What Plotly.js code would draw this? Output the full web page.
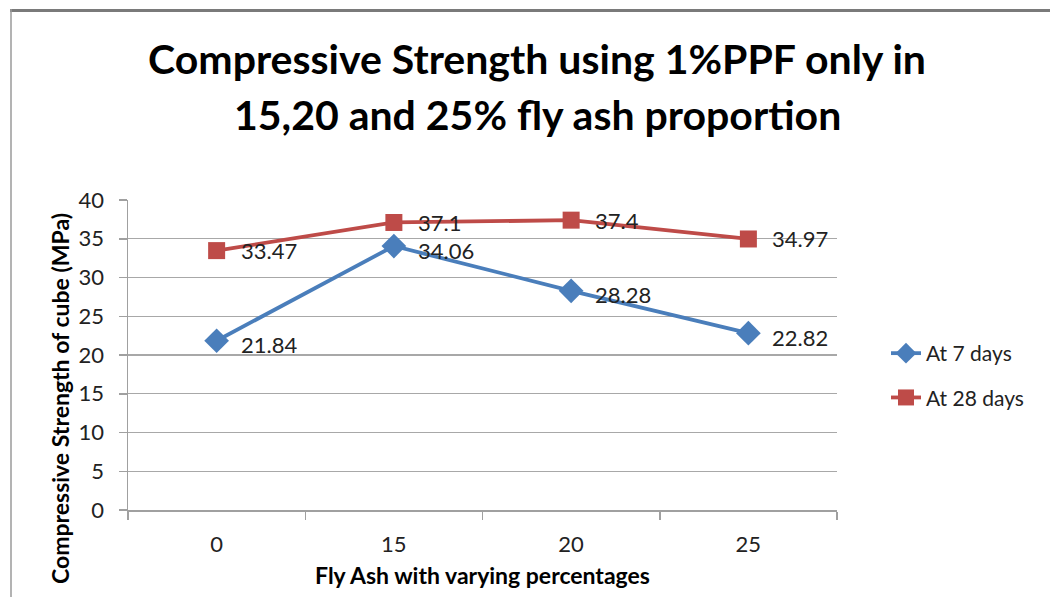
<!DOCTYPE html>
<html>
<head>
<meta charset="utf-8">
<script src="https://cdn.plot.ly/plotly-3.0.1.min.js"></script>
<style>
html,body{margin:0;padding:0;background:#fff;}
#chart{width:1050px;height:597px;}
</style>
</head>
<body>
<div id="chart"></div>
<script>
const categories = ["0", "15", "20", "25"];
const days7 = [21.84, 34.06, 28.28, 22.82];
const days28 = [33.47, 37.1, 37.4, 34.97];
const seriesNames = ["At 7 days", "At 28 days"];
const yTicks = [0, 5, 10, 15, 20, 25, 30, 35, 40];

const W = 1050, H = 597;
const M = {l: 128, r: 213, t: 200, b: 87};
const PW = W - M.l - M.r, PH = H - M.t - M.b;
const px = x => (x - M.l) / PW;
const py = y => (H - M.b - y) / PH;

const FONT = "Lato, 'Open Sans', sans-serif";

const traces = [
  {
    x: categories, y: days7, name: seriesNames[0], type: "scatter",
    mode: "lines+markers",
    line: {color: "#4A7EBB", width: 3.8},
    marker: {symbol: "diamond", size: 19, color: "#4A7EBB"},
    legendgroup: "a", cliponaxis: false
  },
  {
    x: categories, y: days28, name: seriesNames[1], type: "scatter",
    mode: "lines+markers",
    line: {color: "#BE4B48", width: 3.8},
    marker: {symbol: "square", size: 17, color: "#BE4B48"},
    legendgroup: "b", cliponaxis: false
  }
];

function labels(vals, yshift) {
  return vals.map((v, i) => ({
    text: String(v), x: i, y: v, xref: "x", yref: "y",
    xanchor: "left", yanchor: "middle", xshift: 22, yshift: yshift,
    showarrow: false, font: {family: FONT, size: 22, color: "#222"}
  }));
}

const layout = {
  width: W, height: H,
  margin: M,
  paper_bgcolor: "#fff", plot_bgcolor: "#fff",
  font: {family: FONT, color: "#222"},
  title: {
    text: "<b>Compressive Strength using 1%PPF only in</b>",
    font: {family: FONT, size: 41, color: "#000"},
    x: 537 / W, xanchor: "center", xref: "container",
    y: 1 - 60 / H, yanchor: "middle", yref: "container"
  },
  xaxis: {
    type: "category", range: [-0.5, 3.5],
    showline: true, linecolor: "#a0a0a0", linewidth: 1.5,
    ticks: "outside", tickson: "boundaries", ticklen: 8, tickcolor: "#a0a0a0", tickwidth: 1.5,
    showgrid: false, zeroline: false,
    tickfont: {family: FONT, size: 22, color: "#222"},
    ticklabelstandoff: 14,
    title: {text: "<b>Fly Ash with varying percentages</b>", font: {family: FONT, size: 23, color: "#000"}, standoff: 12}
  },
  yaxis: {
    range: [0, 40], tickvals: yTicks,
    showline: true, linecolor: "#a0a0a0", linewidth: 1.5,
    ticks: "outside", ticklen: 8, tickcolor: "#a0a0a0", tickwidth: 1.5,
    showgrid: true, gridcolor: "#a8a8a8", gridwidth: 1.3,
    zeroline: false,
    tickfont: {family: FONT, size: 22, color: "#222"},
    ticklabelstandoff: 10
  },
  showlegend: true,
  legend: {
    x: px(886), xanchor: "left", y: py(333), yanchor: "top",
    font: {family: FONT, size: 21, color: "#222"},
    traceorder: "grouped", tracegroupgap: 14,
    bgcolor: "rgba(0,0,0,0)"
  },
  annotations: [
    {
      text: "<b>15,20 and 25% fly ash proportion</b>",
      xref: "paper", yref: "paper", x: px(537), y: py(114),
      xanchor: "center", yanchor: "middle", showarrow: false,
      font: {family: FONT, size: 41, color: "#000"}
    },
    {
      text: "<b>Compressive Strength of cube (MPa)</b>",
      xref: "paper", yref: "paper", x: px(60), y: py(399),
      xanchor: "center", yanchor: "middle", textangle: -90, showarrow: false,
      font: {family: FONT, size: 23, color: "#000"}
    }
  ].concat(labels(days7, -4), labels(days28, 0)),
  shapes: [
    {type: "line", xref: "paper", yref: "paper", x0: px(10), x1: px(1050), y0: py(10.5), y1: py(10.5),
     line: {color: "#7a7a7a", width: 3}},
    {type: "line", xref: "paper", yref: "paper", x0: px(11), x1: px(11), y0: py(9), y1: py(597),
     line: {color: "#9a9a9a", width: 1.5}}
  ]
};

Plotly.newPlot("chart", traces, layout, {displayModeBar: false, staticPlot: true});
</script>
</body>
</html>
